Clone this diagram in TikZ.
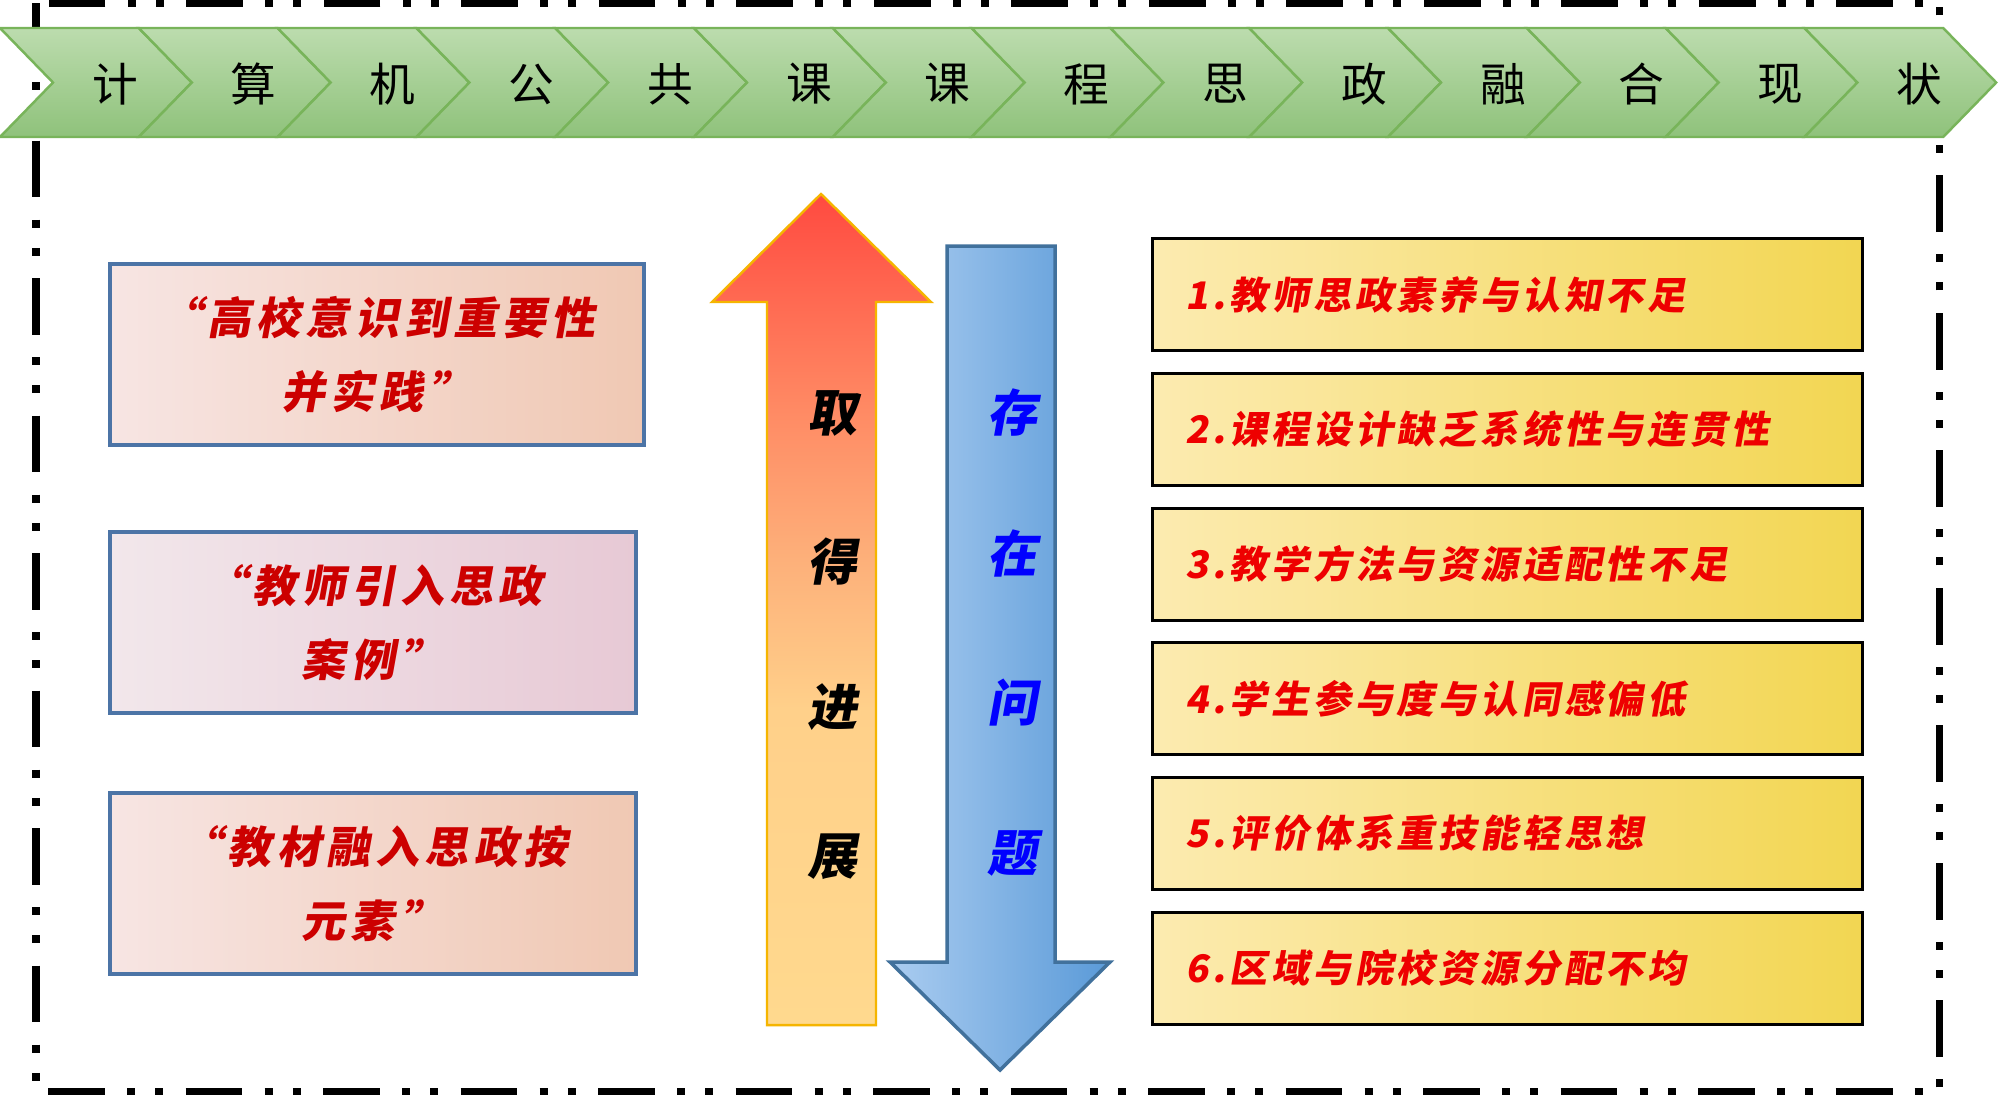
\documentclass[tikz,border=0pt]{standalone}
\usepackage{fontspec}
\newfontfamily\hei{Noto Sans CJK SC}
\newfontfamily\calli[FakeSlant=0.18]{Noto Sans CJK SC}
\definecolor{chevtop}{HTML}{BCDCAE}
\definecolor{chevbot}{HTML}{8FC27B}
\definecolor{chevedge}{HTML}{78B45A}
\definecolor{lboxedge}{HTML}{4C74A6}
\definecolor{lboxtext}{HTML}{CC0000}
\definecolor{lbAleft}{HTML}{F7E5E3}
\definecolor{lbAright}{HTML}{F0C8B3}
\definecolor{lbBleft}{HTML}{F2E7EB}
\definecolor{lbBright}{HTML}{E7C9D5}
\definecolor{rbleft}{HTML}{FCEBB0}
\definecolor{rbright}{HTML}{F2D652}
\definecolor{rbtext}{HTML}{EE0000}
\definecolor{upedge}{HTML}{F5B500}
\definecolor{upa}{HTML}{FFD98E}
\definecolor{upb}{HTML}{FFD08A}
\definecolor{upc}{HTML}{FDB07A}
\definecolor{upd}{HTML}{FF8A64}
\definecolor{upe}{HTML}{FF4A40}
\definecolor{dnleft}{HTML}{AACCF0}
\definecolor{dnright}{HTML}{5A9AD8}
\definecolor{dnedge}{HTML}{41719C}
\definecolor{dntext}{HTML}{0000FF}
\pgfdeclareverticalshading{upshade}{100bp}{color(0bp)=(upa); color(25bp)=(upa); color(44bp)=(upb); color(53bp)=(upc); color(62bp)=(upd); color(75bp)=(upe); color(100bp)=(upe)}
\tikzset{
  frameline/.style={line width=2pt, dash pattern=on 16.2pt off 6.3pt on 2.3pt off 5.7pt on 2.3pt off 6.3pt},
  chevron/.style={draw=chevedge, line width=0.7pt, top color=chevtop, bottom color=chevbot, line join=miter},
  chevtext/.style={font=\hei\fontsize{13}{13}\selectfont, text=black, inner sep=0pt},
  lbox/.style={draw=lboxedge, line width=1.3pt, minimum height=1.81cm, align=center, inner sep=0pt,
    font={\calli\bfseries\fontsize{12.5}{21}\selectfont\addfontfeature{LetterSpace=12}}, text=lboxtext},
  rbox/.style={draw=black, line width=0.85pt, left color=rbleft, right color=rbright,
    minimum height=1.12cm, text width=6.43cm, inner xsep=0.33cm, inner ysep=0pt, align=left,
    font={\calli\bfseries\fontsize{10.8}{12}\selectfont\addfontfeature{LetterSpace=10}}, text=rbtext},
  uparrow/.style={draw=upedge, line width=0.7pt, shading=upshade, line join=miter},
  dnarrow/.style={draw=dnedge, line width=1pt, left color=dnleft, right color=dnright, line join=miter},
  uptext/.style={font={\calli\bfseries\fontsize{14.2}{14.2}\selectfont}, text=black, inner sep=0pt},
  dntext/.style={font={\calli\bfseries\fontsize{14.2}{14.2}\selectfont}, text=dntext, inner sep=0pt}
}
\begin{document}
\begin{tikzpicture}[x=0.01cm, y=-0.01cm]
\useasboundingbox (0,0) rectangle (2000,1096);
\fill[white] (0,0) rectangle (2000,1096);
% frame
\draw[frameline] (36,3) rectangle (1939,1091);
% chevrons
\foreach \c [count=\i from 0] in {计,算,机,公,共,课,课,程,思,政,融,合,现,状}{
  \pgfmathsetmacro\xa{\i*138.8}
  \draw[chevron] (\xa,28) -- ++(138.8,0) -- ++(53,54.5) -- ++(-53,54.5) -- ++(-138.8,0) -- ++(53,-54.5) -- cycle;
  \node[chevtext] (ch\i) at (\xa+115,84) {\c};
}
% left boxes
\node[lbox, minimum width=5.34cm, left color=lbAleft, right color=lbAright] (lb1) at (377,354.5) {“高校意识到重要性\\并实践”};
\node[lbox, minimum width=5.26cm, left color=lbBleft, right color=lbBright] (lb2) at (373,622.5) {“教师引入思政\\案例”};
\node[lbox, minimum width=5.26cm, left color=lbAleft, right color=lbAright] (lb3) at (373,883.5) {“教材融入思政按\\元素”};
% up arrow
\draw[uparrow] (821,194) -- (931,302) -- (876,302) -- (876,1025) -- (767,1025) -- (767,302) -- (712,302) -- cycle;
\node[uptext] (up1) at (832,413) {取};
\node[uptext] (up2) at (832,562) {得};
\node[uptext] (up3) at (832,707) {进};
\node[uptext] (up4) at (832,857) {展};
% down arrow
\draw[dnarrow] (947,246) -- (1055,246) -- (1055,962) -- (1110,962) -- (1000,1070) -- (890,962) -- (947,962) -- cycle;
\node[dntext] (dn1) at (1012,413) {存};
\node[dntext] (dn2) at (1012,553) {在};
\node[dntext] (dn3) at (1012,703) {问};
\node[dntext] (dn4) at (1012,853) {题};
% right boxes
\node[rbox] (rb1) at (1507.5,294.7) {1.教师思政素养与认知不足};
\node[rbox] (rb2) at (1507.5,429.4) {2.课程设计缺乏系统性与连贯性};
\node[rbox] (rb3) at (1507.5,564.1) {3.教学方法与资源适配性不足};
\node[rbox] (rb4) at (1507.5,698.8) {4.学生参与度与认同感偏低};
\node[rbox] (rb5) at (1507.5,833.5) {5.评价体系重技能轻思想};
\node[rbox] (rb6) at (1507.5,968.2) {6.区域与院校资源分配不均};
\end{tikzpicture}
\end{document}
